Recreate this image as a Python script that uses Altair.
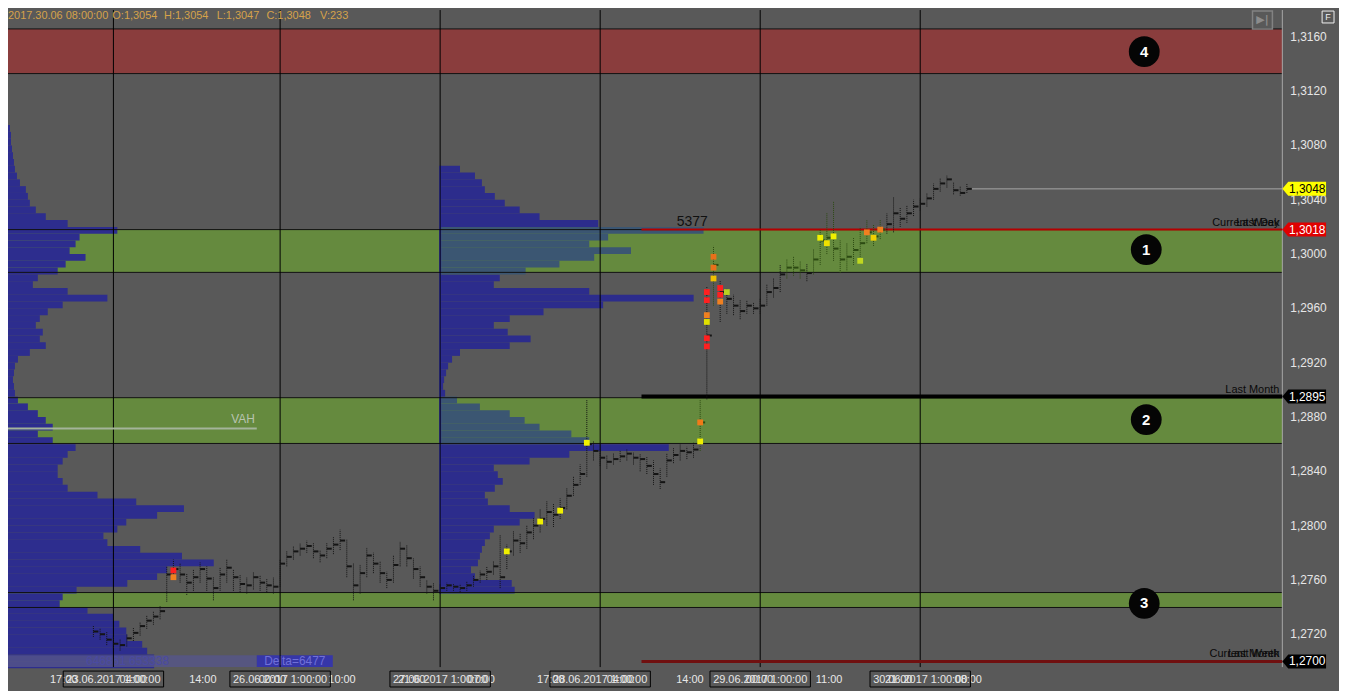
import altair as alt
import pandas as pd

# ---------------- layout ----------------
PLOT_W, PLOT_H = 1282, 661
X_MIN, X_MAX = 1.19, 192.31          # hours on the compressed time axis
Y_MIN, Y_MAX = 1.26958, 1.31797      # price
PX_PER_H = PLOT_W / (X_MAX - X_MIN)

xs = alt.Scale(domain=[X_MIN, X_MAX], nice=False, zero=False)
ys = alt.Scale(domain=[Y_MIN, Y_MAX], nice=False, zero=False)
FONT = "Liberation Sans"

# ---------------- data ----------------
band_lo = [1.31329, 1.29865, 1.28605, 1.27397]
band_hi = [1.31658, 1.30180, 1.28942, 1.27507]
band_color = ["#8a3d3d", "#658a3e", "#658a3e", "#658a3e"]
band_num = ["4", "1", "2", "3"]
num_price = [1.31490, 1.30033, 1.28781, 1.27427]
num_h = [171.6, 171.9, 171.9, 171.6]

day_h = [17, 42, 66, 90, 114, 138]
day_label = ["23.06.2017 1:00:00", "26.06.2017 1:00:00", "27.06.2017 1:00:00",
             "28.06.2017 1:00:00", "29.06.2017 1:00:00", "30.06.2017 1:00:00"]
time_labels = ["17:00", "04:00", "14:00", "00:00", "10:00", "21:00", "07:00",
               "17:00", "04:00", "14:00", "00:00", "11:00", "21:00", "08:00"]
y_ticks = [1.2720, 1.2760, 1.2800, 1.2840, 1.2880, 1.2920, 1.2960, 1.3000,
           1.3040, 1.3080, 1.3120, 1.3160]

# volume profiles (rows of 0.0005, bottom to top)
left_start, mid_start, ROW = 1.2695, 1.2750, 0.0005
left_vol = [147, 147, 140, 135, 120, 119, 112, 106, 80, 52,
            55, 69, 120, 150, 160, 207, 175, 133, 100, 96,
            110, 119, 150, 177, 129, 90, 60, 55, 50, 50,
            55, 60, 68, 45, 30, 45, 38, 30, 20, 10,
            7, 6, 5, 6, 7, 10, 22, 38, 32, 35,
            28, 32, 40, 55, 100, 60, 25, 30, 50, 58,
            78, 62, 68, 72, 110, 60, 38, 28, 22, 20,
            18, 12, 9, 7, 6, 5, 4, 3, 3, 2]
mid_vol = [75, 72, 35, 31, 38, 40, 42, 45, 50, 54,
           80, 95, 70, 48, 45, 55, 63, 58, 54, 90,
           130, 230, 150, 132, 100, 85, 70, 40, 17, 5,
           3, 4, 6, 8, 12, 20, 70, 91, 68, 54,
           70, 104, 164, 255, 150, 54, 60, 86, 120, 155,
           192, 150, 169, 265, 159, 100, 80, 65, 55, 45,
           42, 35, 20]
mid_profile_h = 66

# price bars, one per hour
bar_h = list(range(14, 146))
bar_close = [1.2722, 1.2720, 1.2716, 1.2713, 1.2712, 1.2717, 1.2721, 1.2726, 1.2730, 1.2733,
             1.2737, 1.2764, 1.2768, 1.2764, 1.2758, 1.2762, 1.2768, 1.2761, 1.2754, 1.2764,
             1.2769, 1.2762, 1.2757, 1.2756, 1.2762, 1.2758, 1.2756, 1.2755, 1.2772, 1.2777,
             1.2781, 1.2783, 1.2785, 1.2781, 1.2778, 1.2783, 1.2786, 1.2789, 1.2770, 1.2756,
             1.2765, 1.2778, 1.2772, 1.2765, 1.2760, 1.2771, 1.2783, 1.2776, 1.2768, 1.2762,
             1.2755, 1.2752, 1.2754, 1.2756, 1.2755, 1.2754, 1.2756, 1.2760, 1.2764, 1.2766,
             1.2770, 1.2762, 1.2781, 1.2789, 1.2787, 1.2795, 1.2800, 1.2805, 1.2810, 1.2808,
             1.2813, 1.2822, 1.2830, 1.2838, 1.2860, 1.2855, 1.2850, 1.2847, 1.2849, 1.2851,
             1.2853, 1.2850, 1.2849, 1.2844, 1.2838, 1.2832, 1.2848, 1.2852, 1.2855, 1.2854,
             1.2856, 1.2876, 1.2940, 1.2992, 1.2972, 1.2967, 1.2962, 1.2958, 1.2962, 1.2960,
             1.2962, 1.2972, 1.2975, 1.2985, 1.2990, 1.2990, 1.2988, 1.2986, 1.2996, 1.3010,
             1.3012, 1.3004, 1.2996, 1.2998, 1.3003, 1.3008, 1.3016, 1.3013, 1.3018, 1.3022,
             1.3030, 1.3026, 1.3030, 1.3035, 1.3037, 1.3041, 1.3048, 1.3052, 1.3055, 1.3047,
             1.3045, 1.3048]
bar_high = [1.2726, 1.2724, 1.2722, 1.2718, 1.2716, 1.2720, 1.2725, 1.2729, 1.2734, 1.2737,
            1.2741, 1.2770, 1.2775, 1.2772, 1.2765, 1.2768, 1.2773, 1.2770, 1.2762, 1.2769,
            1.2775, 1.2768, 1.2764, 1.2762, 1.2766, 1.2763, 1.2761, 1.2762, 1.2775, 1.2781,
            1.2785, 1.2787, 1.2789, 1.2787, 1.2782, 1.2787, 1.2792, 1.2797, 1.2790, 1.2772,
            1.2771, 1.2784, 1.2780, 1.2774, 1.2766, 1.2778, 1.2788, 1.2786, 1.2776, 1.2770,
            1.2760, 1.2758, 1.2757, 1.2758, 1.2757, 1.2757, 1.2759, 1.2763, 1.2767, 1.2770,
            1.2774, 1.2793, 1.2786, 1.2796, 1.2794, 1.2800, 1.2806, 1.2812, 1.2818, 1.2816,
            1.2820, 1.2828, 1.2836, 1.2845, 1.2893, 1.2862, 1.2856, 1.2852, 1.2853, 1.2855,
            1.2856, 1.2854, 1.2853, 1.2851, 1.2848, 1.2842, 1.2853, 1.2857, 1.2860, 1.2858,
            1.2861, 1.2893, 1.2976, 1.3006, 1.2980, 1.2975, 1.2970, 1.2966, 1.2966, 1.2964,
            1.2967, 1.2978, 1.2982, 1.2992, 1.2996, 1.2998, 1.2995, 1.2993, 1.3004, 1.3018,
            1.3030, 1.3039, 1.3010, 1.3008, 1.3012, 1.3020, 1.3025, 1.3022, 1.3025, 1.3030,
            1.3042, 1.3034, 1.3036, 1.3040, 1.3041, 1.3045, 1.3052, 1.3056, 1.3058, 1.3053,
            1.3050, 1.3052]
bar_low = [1.2718, 1.2716, 1.2712, 1.2710, 1.2708, 1.2711, 1.2715, 1.2719, 1.2724, 1.2727,
           1.2731, 1.2744, 1.2760, 1.2758, 1.2749, 1.2752, 1.2758, 1.2752, 1.2745, 1.2752,
           1.2758, 1.2752, 1.2751, 1.2750, 1.2753, 1.2752, 1.2751, 1.2750, 1.2755, 1.2770,
           1.2775, 1.2778, 1.2780, 1.2776, 1.2773, 1.2776, 1.2779, 1.2782, 1.2762, 1.2745,
           1.2750, 1.2762, 1.2765, 1.2758, 1.2754, 1.2758, 1.2770, 1.2770, 1.2761, 1.2755,
           1.2750, 1.2745, 1.2750, 1.2752, 1.2752, 1.2751, 1.2752, 1.2755, 1.2758, 1.2760,
           1.2764, 1.2754, 1.2768, 1.2778, 1.2780, 1.2783, 1.2790, 1.2795, 1.2800, 1.2799,
           1.2805, 1.2812, 1.2822, 1.2830, 1.2836, 1.2848, 1.2844, 1.2842, 1.2845, 1.2847,
           1.2848, 1.2845, 1.2840, 1.2838, 1.2830, 1.2827, 1.2836, 1.2846, 1.2848, 1.2849,
           1.2850, 1.2855, 1.2893, 1.2962, 1.2950, 1.2956, 1.2955, 1.2952, 1.2956, 1.2956,
           1.2956, 1.2962, 1.2968, 1.2972, 1.2982, 1.2984, 1.2982, 1.2980, 1.2985, 1.2992,
           1.3000, 1.2995, 1.2986, 1.2988, 1.2992, 1.2998, 1.3008, 1.3006, 1.3011, 1.3015,
           1.3016, 1.3020, 1.3023, 1.3028, 1.3032, 1.3035, 1.3040, 1.3046, 1.3049, 1.3044,
           1.3043, 1.3045]

# footprint highlight clusters
cl_h = [26, 26, 76, 81, 84, 88, 105, 105, 106, 106, 106, 106, 106, 106,
        107, 107, 107, 108, 108, 108, 109, 123, 124, 125, 129, 130, 131, 132]
cl_p = [1.2767, 1.2762, 1.2781, 1.2803, 1.2811, 1.2861, 1.2876, 1.2862, 1.2972, 1.2966,
        1.2955, 1.2950, 1.2938, 1.2932, 1.2998, 1.2990, 1.2982, 1.2975, 1.2970, 1.2965,
        1.2972, 1.3012, 1.3008, 1.3013, 1.2995, 1.3016, 1.3012, 1.3018]
cl_c = ["#ff2020", "#f08020", "#f0f000", "#f0f000", "#f0f000", "#f0f000", "#f07a18", "#f0f000",
        "#ff2020", "#ff2020", "#f08020", "#e0e000", "#ff2020", "#ff2020", "#e8701a", "#e8701a",
        "#f0c000", "#ff2020", "#ff2020", "#f08020", "#b8d020", "#f0f000", "#f0e000", "#f0f000",
        "#c0d820", "#f08020", "#f0d000", "#f08020"]

# horizontal levels
lvl_price = [1.3018, 1.2895, 1.2700, 1.3048]
lvl_start = [96.2, 96.2, 96.2, 145.6]
lvl_color = ["#b40000", "#000000", "#701010", "#a8a8a8"]
lvl_width = [2, 4, 3, 1]
lvl_names = [["Current Week", "Last Day"], ["Last Month"], ["Current Month", "Last Week"], []]

tag_price = [1.3048, 1.3018, 1.2895, 1.2700]
tag_fill = ["#ffff00", "#e00000", "#000000", "#000000"]
tag_txt = ["#000000", "#ffffff", "#ffffff", "#ffffff"]

header = ["2017.30.06 08:00:00", "O:1,3054", "H:1,3054", "L:1,3047", "C:1,3048", "V:233"]
header_x = [0, 105, 157, 210, 260, 314]

vah_price, vah_end = 1.28715, 38.5
poc_value, poc_h, poc_price = "5377", 103.8, 1.30238

# ---------------- frames ----------------
def in_band(p):
    return any(lo <= p <= hi for lo, hi in zip(band_lo[1:], band_hi[1:]))

def price_fmt(v):
    return f"{v:.4f}".replace(".", ",")

bands = pd.DataFrame({"lo": band_lo, "hi": band_hi, "color": band_color,
                      "num": band_num, "np": num_price, "nh": num_h})

lp = pd.DataFrame({"p0": [left_start + ROW * i for i in range(len(left_vol))], "v": left_vol})
lp["p1"] = lp["p0"] + ROW
lp["x0"] = X_MIN
lp["x1"] = X_MIN + lp["v"] / PX_PER_H

mp = pd.DataFrame({"p0": [mid_start + ROW * i for i in range(len(mid_vol))], "v": mid_vol})
mp["p1"] = mp["p0"] + ROW
mp["x0"] = mid_profile_h
mp["x1"] = mid_profile_h + mp["v"] / PX_PER_H
mp["color"] = ["#3b5672" if in_band(p + ROW / 2) else "#2c2c8c" for p in mp["p0"]]

bars = pd.DataFrame({"h": bar_h, "lo": bar_low, "hi": bar_high, "c": bar_close})
bars["h2"] = bars["h"] + 5 / PX_PER_H
bars["color"] = ["#2c4a12" if in_band(c) else "#141414" for c in bars["c"]]

clus = pd.DataFrame({"h": cl_h, "p": cl_p, "color": cl_c})

days = pd.DataFrame({"h": day_h, "label": day_label})
days["b0"] = days["h"] - 50.5 / PX_PER_H
days["b1"] = days["h"] + 50.5 / PX_PER_H

tick_h = [(29 + 35 * k) / PX_PER_H + X_MIN - 8 / PX_PER_H for k in range(37)]
tl = pd.DataFrame({"h": tick_h[1::2][:len(time_labels)], "label": time_labels})
yt = pd.DataFrame({"p": y_ticks, "label": [price_fmt(v) for v in y_ticks]})

levels = pd.DataFrame({"p": lvl_price, "x0": lvl_start, "x1": X_MAX,
                       "color": lvl_color, "w": lvl_width})
lvl_lab = pd.DataFrame([{"p": p, "t": t} for p, names in zip(lvl_price, lvl_names) for t in names])

tags = pd.DataFrame({"p": tag_price, "fill": tag_fill, "txt": tag_txt,
                     "label": [price_fmt(v) for v in tag_price]})

def X(f, **k): return alt.X(f, type="quantitative", scale=xs, axis=None, **k)
def Y(f, **k): return alt.Y(f, type="quantitative", scale=ys, axis=None, **k)

layers = []

# band fills
layers.append(alt.Chart(bands).mark_rect().encode(
    x=alt.value(0), x2=alt.value(PLOT_W), y=Y("lo"), y2="hi:Q",
    color=alt.Color("color:N", scale=None)))

# volume profiles
layers.append(alt.Chart(lp).mark_rect(color="#2d2d8e").encode(
    x=X("x0"), x2="x1", y=Y("p0"), y2="p1"))
layers.append(alt.Chart(mp).mark_rect().encode(
    x=X("x0"), x2="x1", y=Y("p0"), y2="p1", color=alt.Color("color:N", scale=None)))
layers.append(alt.Chart(pd.DataFrame({"h": [mid_profile_h], "p0": [mid_start], "p1": [mid_start + ROW * len(mid_vol)]}))
              .mark_rule(color="#3434b0", strokeWidth=2).encode(x=X("h"), y=Y("p0"), y2="p1"))

# bottom summary strip
strip = pd.DataFrame({"x0": [X_MIN], "x1": [vah_end], "p0": [Y_MIN], "p1": [1.27046]})
layers.append(alt.Chart(strip).mark_rect(color="#55558a", opacity=0.8).encode(
    x=X("x0"), x2="x1", y=Y("p0"), y2="p1"))
delta = pd.DataFrame({"x0": [vah_end], "x1": [49.9], "p0": [Y_MIN], "p1": [1.27046],
                      "xm": [44.2], "pm": [1.27002], "t": ["Delta=6477"]})
layers.append(alt.Chart(delta).mark_rect(color="#3636a8").encode(
    x=X("x0"), x2="x1", y=Y("p0"), y2="p1"))
layers.append(alt.Chart(delta).mark_text(color="#7070d8", font=FONT, fontSize=12).encode(
    x=X("xm"), y=Y("pm"), text="t:N"))
layers.append(alt.Chart(pd.DataFrame({"xm": [19.1], "pm": [1.27002], "t": ["646861 653338"]}))
              .mark_text(color="#4a4aa2", font=FONT, fontSize=12).encode(x=X("xm"), y=Y("pm"), text="t:N"))

# band borders
layers.append(alt.Chart(bands).mark_rule(color="#111111", strokeWidth=1).encode(
    x=alt.value(0), x2=alt.value(PLOT_W), y=Y("lo")))
layers.append(alt.Chart(bands).mark_rule(color="#111111", strokeWidth=1).encode(
    x=alt.value(0), x2=alt.value(PLOT_W), y=Y("hi")))

# day separators + x axis ticks
layers.append(alt.Chart(days).mark_rule(color="#000000", strokeWidth=1).encode(
    x=alt.X("h:Q", scale=xs, axis=alt.Axis(
        values=tick_h, labels=False, ticks=True, tickSize=5, tickColor="#d0d0d0",
        domainColor="#b8b8b8", grid=False, title=None)),
    y=alt.value(0), y2=alt.value(PLOT_H)))

# right price axis: line + labels
layers.append(alt.Chart(pd.DataFrame({"k": [0]})).mark_rule(color="#a8a8a8", strokeWidth=1).encode(
    x=alt.value(PLOT_W), y=alt.value(0), y2=alt.value(PLOT_H)))
layers.append(alt.Chart(yt).mark_text(color="#e6e6e6", font=FONT, fontSize=12, align="left",
                                      baseline="middle").encode(
    x=alt.value(PLOT_W + 8), y=Y("p"), text="label:N"))

# VAH
vah = pd.DataFrame({"x0": [X_MIN], "x1": [vah_end], "p": [vah_price], "t": ["VAH"], "xt": [38.2]})
layers.append(alt.Chart(vah).mark_rule(color="#a4b49a", strokeWidth=2).encode(
    x=X("x0"), x2="x1", y=Y("p")))
layers.append(alt.Chart(vah).mark_text(color="#b8c4b0", font=FONT, fontSize=12, align="right",
                                       baseline="alphabetic", dy=-6).encode(
    x=X("xt"), y=Y("p"), text="t:N"))

# level lines
layers.append(alt.Chart(levels).mark_rule().encode(
    x=X("x0"), x2="x1", y=Y("p"), color=alt.Color("color:N", scale=None),
    strokeWidth=alt.StrokeWidth("w:Q", scale=None)))
layers.append(alt.Chart(lvl_lab).mark_text(color="#0a0a0a", font=FONT, fontSize=11, align="right",
                                           baseline="alphabetic", dy=-4).encode(
    x=alt.value(PLOT_W - 3), y=Y("p"), text="t:N"))

# price bars
layers.append(alt.Chart(bars).mark_rule(strokeWidth=1, strokeDash=[1, 1]).encode(
    x=X("h"), y=Y("lo"), y2="hi", color=alt.Color("color:N", scale=None)))
layers.append(alt.Chart(bars).mark_rule(strokeWidth=2).encode(
    x=X("h"), x2="h2", y=Y("c"), color=alt.Color("color:N", scale=None)))
layers.append(alt.Chart(clus).mark_square(size=34, opacity=1).encode(
    x=X("h"), y=Y("p"), color=alt.Color("color:N", scale=None)))

# POC value
layers.append(alt.Chart(pd.DataFrame({"h": [poc_h], "p": [poc_price], "t": [poc_value]}))
              .mark_text(color="#101010", font=FONT, fontSize=14).encode(x=X("h"), y=Y("p"), text="t:N"))

# numbered circles
layers.append(alt.Chart(bands).mark_point(shape="circle", filled=True, size=960, color="#050505", opacity=1).encode(
    x=X("nh"), y=Y("np")))
layers.append(alt.Chart(bands).mark_text(color="#ffffff", font=FONT, fontSize=15, fontWeight="bold").encode(
    x=X("nh"), y=Y("np"), text="num:N"))

# price tags on the axis
TAG = "M -1 0 L -0.73 -0.32 L 1 -0.32 L 1 0.32 L -0.73 0.32 Z"
layers.append(alt.Chart(tags).mark_point(shape=TAG, filled=True, size=1936, opacity=1).encode(
    x=alt.value(PLOT_W + 22), y=Y("p"), color=alt.Color("fill:N", scale=None)))
layers.append(alt.Chart(tags).mark_text(font=FONT, fontSize=12).encode(
    x=alt.value(PLOT_W + 25), y=Y("p"), text="label:N", color=alt.Color("txt:N", scale=None)))

# time labels and day boxes
layers.append(alt.Chart(tl).mark_text(color="#e8e8e8", font=FONT, fontSize=11, baseline="middle").encode(
    x=X("h"), y=alt.value(PLOT_H + 13), text="label:N"))
layers.append(alt.Chart(days).mark_rect(filled=False, stroke="#000000", strokeWidth=1).encode(
    x=X("b0"), x2="b1", y=alt.value(PLOT_H + 4), y2=alt.value(PLOT_H + 20)))
layers.append(alt.Chart(days).mark_text(color="#e8e8e8", font=FONT, fontSize=11, baseline="middle").encode(
    x=X("h"), y=alt.value(PLOT_H + 13), text="label:N"))

# header
hdr = pd.DataFrame({"t": header, "x": header_x})
layers.append(alt.Chart(hdr).mark_text(color="#d6a24a", font=FONT, fontSize=11, align="left",
                                       baseline="middle").encode(
    x=alt.X("x:Q", scale=None, axis=None), y=alt.value(6), text="t:N"))

# toolbar icons
icons = pd.DataFrame({"k": [0]})
layers.append(alt.Chart(icons).mark_rect(filled=False, stroke="#828282", strokeWidth=1.5).encode(
    x=alt.value(1252), x2=alt.value(1272), y=alt.value(1), y2=alt.value(19)))
layers.append(alt.Chart(icons).mark_text(text="▶|", color="#8c8c8c", font="DejaVu Sans",
                                         fontSize=11, fontWeight="bold").encode(
    x=alt.value(1262), y=alt.value(10)))
layers.append(alt.Chart(icons).mark_rect(filled=False, stroke="#f0f0f0", strokeWidth=1).encode(
    x=alt.value(1322), x2=alt.value(1334), y=alt.value(1), y2=alt.value(13)))
layers.append(alt.Chart(icons).mark_text(text="F", color="#f0f0f0", font=FONT, fontSize=9).encode(
    x=alt.value(1328), y=alt.value(7)))

chart = alt.layer(*layers).properties(
    width=PLOT_W, height=PLOT_H, background="#595959",
    padding={"left": 0, "top": 0, "right": 57, "bottom": 22},
    autosize=alt.AutoSizeParams(type="none"),
).configure_view(stroke=None)

chart.save("out.html", embed_options={"renderer": "svg", "actions": False})
